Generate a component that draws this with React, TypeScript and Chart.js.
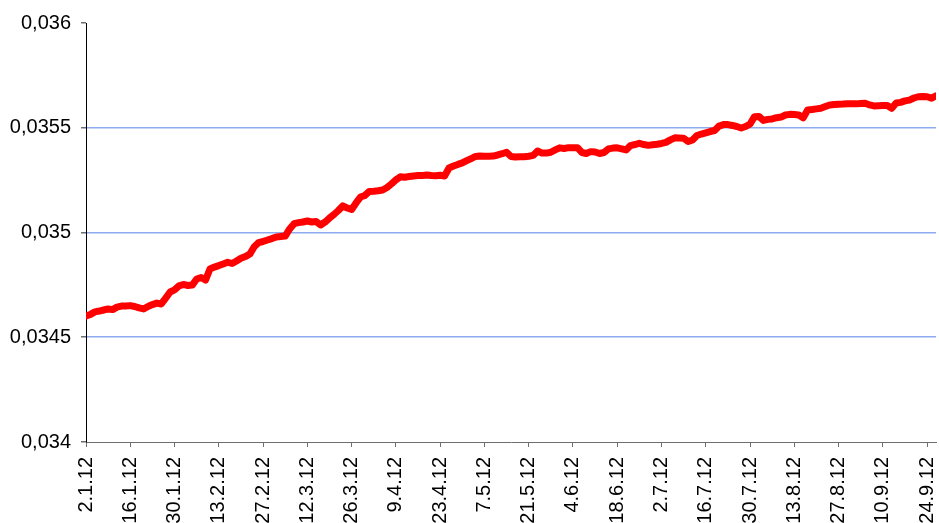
import React, { useEffect, useRef } from 'react';
import { Chart, registerables } from 'chart.js';

Chart.register(...registerables);

// Tick labels every 10 business days (index 0, 10, 20, ...)
const tickLabels = [
  '2.1.12', '16.1.12', '30.1.12', '13.2.12', '27.2.12', '12.3.12', '26.3.12',
  '9.4.12', '23.4.12', '7.5.12', '21.5.12', '4.6.12', '18.6.12', '2.7.12',
  '16.7.12', '30.7.12', '13.8.12', '27.8.12', '10.9.12', '24.9.12',
];

// Daily values (business days from 2.1.12)
const values = [
  0.034601, 0.034609, 0.034621, 0.034625, 0.034630, 0.034635, 0.034632, 0.034644, 0.034649, 0.034649,
  0.034651, 0.034647, 0.034640, 0.034635, 0.034647, 0.034656, 0.034663, 0.034659, 0.034687, 0.034716,
  0.034726, 0.034745, 0.034752, 0.034747, 0.034749, 0.034778, 0.034785, 0.034773, 0.034826, 0.034835,
  0.034842, 0.034850, 0.034858, 0.034852, 0.034864, 0.034877, 0.034885, 0.034897, 0.034932, 0.034952,
  0.034957, 0.034964, 0.034971, 0.034979, 0.034981, 0.034983, 0.035017, 0.035042, 0.035047, 0.035050,
  0.035055, 0.035050, 0.035052, 0.035036, 0.035050, 0.035069, 0.035086, 0.035105, 0.035127, 0.035117,
  0.035110, 0.035141, 0.035169, 0.035177, 0.035196, 0.035197, 0.035199, 0.035203, 0.035215, 0.035232,
  0.035251, 0.035266, 0.035264, 0.035267, 0.035270, 0.035272, 0.035272, 0.035274, 0.035272, 0.035271,
  0.035273, 0.035270, 0.035308, 0.035317, 0.035325, 0.035332, 0.035343, 0.035353, 0.035363, 0.035365,
  0.035364, 0.035364, 0.035365, 0.035370, 0.035376, 0.035383, 0.035363, 0.035360, 0.035361, 0.035362,
  0.035364, 0.035368, 0.035389, 0.035379, 0.035379, 0.035383, 0.035394, 0.035404, 0.035401, 0.035405,
  0.035405, 0.035405, 0.035382, 0.035377, 0.035386, 0.035384, 0.035377, 0.035382, 0.035399, 0.035403,
  0.035404, 0.035399, 0.035394, 0.035415, 0.035420, 0.035426, 0.035420, 0.035416, 0.035419, 0.035421,
  0.035425, 0.035430, 0.035442, 0.035452, 0.035451, 0.035450, 0.035434, 0.035442, 0.035463, 0.035470,
  0.035476, 0.035482, 0.035487, 0.035508, 0.035515, 0.035515, 0.035511, 0.035506, 0.035499, 0.035506,
  0.035518, 0.035553, 0.035554, 0.035535, 0.035540, 0.035542, 0.035548, 0.035551, 0.035561, 0.035564,
  0.035563, 0.035561, 0.035547, 0.035585, 0.035587, 0.035590, 0.035593, 0.035601, 0.035609, 0.035611,
  0.035612, 0.035613, 0.035615, 0.035615, 0.035614, 0.035616, 0.035617, 0.035609, 0.035604, 0.035605,
  0.035606, 0.035606, 0.035593, 0.035618, 0.035621, 0.035628, 0.035632, 0.035642, 0.035648, 0.035649,
  0.035648, 0.035641, 0.035652,
];

const yMin = 0.034;
const yMax = 0.036;
const yStep = 0.0005;
const tickEvery = 10;

const FONT = { family: "'Liberation Sans', Arial, sans-serif", size: 20 };

export default function App() {
  const ref = useRef<HTMLCanvasElement>(null);

  useEffect(() => {
    if (!ref.current) return;
    const chart = new Chart(ref.current, {
      type: 'line',
      data: {
        datasets: [
          {
            data: values.map((v, i) => ({ x: i, y: v })),
            borderColor: '#ff0000',
            backgroundColor: '#ff0000',
            borderWidth: 7,
            pointRadius: 0,
            borderCapStyle: 'round',
            borderJoinStyle: 'round',
            tension: 0,
            fill: false,
          },
        ],
      },
      options: {
        responsive: false,
        animation: false,
        events: [],
        layout: { padding: { top: 23, right: 3, left: 0, bottom: 0 } },
        plugins: {
          legend: { display: false },
          tooltip: { enabled: false },
        },
        scales: {
          x: {
            type: 'linear',
            min: 0,
            max: values.length - 1,
            afterBuildTicks: (s: any) => {
              s.ticks = tickLabels.map((_, k) => ({ value: k * tickEvery }));
            },
            afterFit: (s: any) => {
              s.height = 81;
              s.paddingLeft = 0;
              s.paddingRight = 0;
            },
            grid: {
              drawOnChartArea: false,
              drawTicks: true,
              tickLength: 5,
              tickColor: '#6e6e6e',
            },
            border: { display: true, color: '#6e6e6e', width: 1 },
            ticks: {
              autoSkip: false,
              maxRotation: 90,
              minRotation: 90,
              padding: 10,
              color: '#000',
              font: FONT,
              callback: (v: any) => tickLabels[Math.round(Number(v) / tickEvery)] ?? '',
            },
          },
          y: {
            type: 'linear',
            min: yMin,
            max: yMax,
            afterFit: (s: any) => {
              s.width = 86;
              s.paddingTop = 0;
              s.paddingBottom = 0;
            },
            grid: {
              drawOnChartArea: true,
              drawTicks: true,
              tickLength: 5,
              tickColor: '#6e6e6e',
              color: (ctx: any) => {
                const v = ctx.tick ? ctx.tick.value : 0;
                if (Math.abs(v - yMin) < 1e-9 || Math.abs(v - yMax) < 1e-9) return 'rgba(0,0,0,0)';
                return '#8eaaf0';
              },
              lineWidth: 1.5,
            },
            border: { display: true, color: '#000', width: 1 },
            ticks: {
              stepSize: yStep,
              padding: 10,
              color: '#000',
              font: FONT,
              callback: (v: any) =>
                Number(v).toFixed(4).replace(/0+$/, '').replace('.', ','),
            },
          },
        },
      },
    });
    return () => chart.destroy();
  }, []);

  return (
    <div style={{ position: 'fixed', left: 0, top: 0, width: 939, height: 523, background: '#fff' }}>
      <canvas ref={ref} width={939} height={523} style={{ display: 'block' }} />
    </div>
  );
}
